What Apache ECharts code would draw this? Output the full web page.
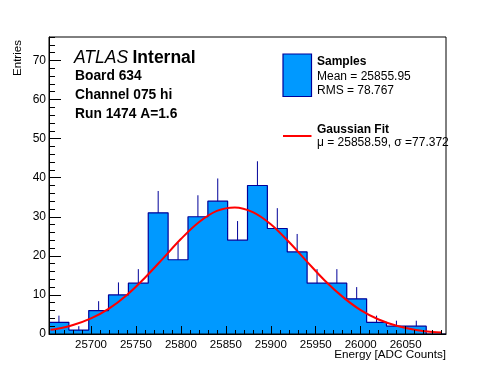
<!DOCTYPE html>
<html>
<head>
<meta charset="utf-8">
<script src="https://cdn.jsdelivr.net/npm/echarts@6/dist/echarts.min.js"></script>
<style>
html,body{margin:0;padding:0;background:#fff;}
#chart{width:496px;height:372px;}
</style>
</head>
<body>
<div id="chart"></div>
<script>
// ---- data ----
const binEdges = [25653.3, 25675.4, 25697.5, 25719.5, 25741.6, 25763.7, 25785.8, 25807.9, 25830.0, 25852.0, 25874.1, 25896.2, 25918.3, 25940.4, 25962.5, 25984.5, 26006.6, 26028.7, 26050.8, 26072.9, 26094.9];
const counts = [3, 1, 6, 10, 13, 31, 19, 30, 34, 24, 38, 27, 21, 13, 13, 9, 3, 2, 2, 0];
const errors = [1.7, 1.0, 2.4, 3.2, 3.6, 5.6, 4.4, 5.5, 5.8, 4.9, 6.2, 5.2, 4.6, 3.6, 3.6, 3.0, 1.7, 1.4, 1.4, 0];
const fitX = [25655, 25660, 25680, 25700, 25720, 25740, 25760, 25780, 25800, 25820, 25840, 25860, 25880, 25900, 25920, 25940, 25960, 25980, 26000, 26020, 26040, 26060, 26080, 26090];
const fitY = [1.1, 1.2, 2.3, 4.0, 6.5, 10.0, 14.4, 19.3, 24.3, 28.6, 31.5, 32.4, 31.2, 28.1, 23.6, 18.6, 13.7, 9.5, 6.1, 3.7, 2.1, 1.1, 0.5, 0.4];
const xMajorTicks = [25700, 25750, 25800, 25850, 25900, 25950, 26000, 26050];
const xMinorTicks = [25660, 25670, 25680, 25690, 25710, 25720, 25730, 25740, 25760, 25770, 25780, 25790, 25810, 25820, 25830, 25840, 25860, 25870, 25880, 25890, 25910, 25920, 25930, 25940, 25960, 25970, 25980, 25990, 26010, 26020, 26030, 26040, 26060, 26070, 26080, 26090];
const yMajorTicks = [0, 10, 20, 30, 40, 50, 60, 70];
const yMinorTicks = [2, 4, 6, 8, 12, 14, 16, 18, 22, 24, 26, 28, 32, 34, 36, 38, 42, 44, 46, 48, 52, 54, 56, 58, 62, 64, 66, 68, 72, 74, 76];
const xRange = [25653.3, 26094.9];
const yRange = [0, 76];
const xTitle = 'Energy [ADC Counts]';
const yTitle = 'Entries';
const legendTexts = ['Samples', 'Mean = 25855.95', 'RMS = 78.767', 'Gaussian Fit', 'μ = 25858.59, σ =77.372'];
const infoLines = ['Board 634', 'Channel 075 hi', 'Run 1474 A=1.6'];

// ---- build series data ----
const stepData = counts.map((c, i) => [binEdges[i], c]);
stepData.push([binEdges[binEdges.length - 1], counts[counts.length - 1]]);
const errData = counts.map((c, i) => [(binEdges[i] + binEdges[i + 1]) / 2, c, errors[i]]).filter(d => d[2] > 0);
const fitData = fitX.map((x, i) => [x, fitY[i]]);

const FONT = "'Liberation Sans', Arial, Helvetica, sans-serif";
const navy = '#000099';
const fillBlue = '#0099ff';

const chart = echarts.init(document.getElementById('chart'), null, {renderer: 'canvas'});
const axisCommon = {
  type: 'value',
  splitLine: {show: false},
  z: 10
};
chart.setOption({
  animation: false,
  backgroundColor: '#fff',
  grid: {left: 49, right: 50, top: 37, bottom: 38, show: true, borderColor: '#000', borderWidth: 1, backgroundColor: 'transparent', z: 10},
  xAxis: [
    Object.assign({}, axisCommon, {
      min: xRange[0], max: xRange[1], position: 'bottom',
      axisLine: {show: true, lineStyle: {color: '#000', width: 1}},
      axisTick: {show: true, inside: true, length: 8, customValues: xMajorTicks, lineStyle: {color: '#000', width: 1}},
      axisLabel: {show: true, customValues: xMajorTicks, margin: 5, color: '#000', fontSize: 11.5, fontFamily: FONT, formatter: v => String(v)}
    }),
    Object.assign({}, axisCommon, {
      min: xRange[0], max: xRange[1], position: 'bottom', offset: 0,
      axisLine: {show: false},
      axisTick: {show: true, inside: true, length: 4, customValues: xMinorTicks, lineStyle: {color: '#000', width: 1}},
      axisLabel: {show: false}
    })
  ],
  yAxis: [
    Object.assign({}, axisCommon, {
      min: yRange[0], max: yRange[1], position: 'left',
      axisLine: {show: true, lineStyle: {color: '#000', width: 1}},
      axisTick: {show: true, inside: true, length: 12, customValues: yMajorTicks, lineStyle: {color: '#000', width: 1}},
      axisLabel: {show: true, customValues: yMajorTicks, margin: 3, color: '#000', fontSize: 12, fontFamily: FONT}
    }),
    Object.assign({}, axisCommon, {
      min: yRange[0], max: yRange[1], position: 'left', offset: 0,
      axisLine: {show: false},
      axisTick: {show: true, inside: true, length: 6, customValues: yMinorTicks, lineStyle: {color: '#000', width: 1}},
      axisLabel: {show: false}
    })
  ],
  series: [
    {
      name: 'Samples', type: 'line', step: 'end', data: stepData,
      xAxisIndex: 0, yAxisIndex: 0,
      symbol: 'none', clip: true, z: 2,
      lineStyle: {color: navy, width: 1.2},
      areaStyle: {color: fillBlue, opacity: 1, origin: 'start'}
    },
    {
      name: 'errors', type: 'custom', data: errData, xAxisIndex: 0, yAxisIndex: 0, z: 3,
      renderItem: function (params, api) {
        const p0 = api.coord([api.value(0), api.value(1)]);
        const p1 = api.coord([api.value(0), api.value(1) + api.value(2)]);
        return {type: 'line', shape: {x1: p0[0], y1: p0[1], x2: p1[0], y2: p1[1]}, style: {stroke: navy, lineWidth: 1}};
      }
    },
    {
      name: 'Gaussian Fit', type: 'line', data: fitData, smooth: 0.35,
      xAxisIndex: 0, yAxisIndex: 0, symbol: 'none', clip: true, z: 4,
      lineStyle: {color: '#ff0000', width: 2}
    }
  ],
  graphic: [
    {type: 'text', x: 18, y: 58, rotation: Math.PI / 2, style: {text: yTitle, x: 0, y: 0, fill: '#000', font: '11.5px ' + FONT, textAlign: 'center', textVerticalAlign: 'middle', align: 'center', verticalAlign: 'middle'}},
    {type: 'text', style: {text: xTitle, x: 446, y: 355, fill: '#000', font: '11.7px ' + FONT, textAlign: 'right', textVerticalAlign: 'middle', align: 'right', verticalAlign: 'middle'}},
    {type: 'text', style: {text: 'ATLAS', x: 74, y: 58, fill: '#000', font: 'italic 17.5px ' + FONT, textAlign: 'left', textVerticalAlign: 'middle', align: 'left', verticalAlign: 'middle'}},
    {type: 'text', style: {text: 'Internal', x: 132.5, y: 58, fill: '#000', font: 'bold 17.5px ' + FONT, textAlign: 'left', textVerticalAlign: 'middle', align: 'left', verticalAlign: 'middle'}},
    {type: 'text', style: {text: infoLines[0], x: 75, y: 76.5, fill: '#000', font: 'bold 13.8px ' + FONT, textAlign: 'left', textVerticalAlign: 'middle', align: 'left', verticalAlign: 'middle'}},
    {type: 'text', style: {text: infoLines[1], x: 75, y: 95.5, fill: '#000', font: 'bold 13.8px ' + FONT, textAlign: 'left', textVerticalAlign: 'middle', align: 'left', verticalAlign: 'middle'}},
    {type: 'text', style: {text: infoLines[2], x: 75, y: 114, fill: '#000', font: 'bold 13.8px ' + FONT, textAlign: 'left', textVerticalAlign: 'middle', align: 'left', verticalAlign: 'middle'}},
    {type: 'rect', shape: {x: 283, y: 54, width: 28.5, height: 42.5}, style: {fill: fillBlue, stroke: navy, lineWidth: 1.2}, z: 20},
    {type: 'line', shape: {x1: 283, y1: 136, x2: 311.5, y2: 136}, style: {stroke: '#ff0000', lineWidth: 2}, z: 20},
    {type: 'text', style: {text: legendTexts[0], x: 317, y: 61.5, fill: '#000', font: 'bold 12px ' + FONT, textAlign: 'left', textVerticalAlign: 'middle', align: 'left', verticalAlign: 'middle'}, z: 20},
    {type: 'text', style: {text: legendTexts[1], x: 317, y: 77, fill: '#000', font: '12px ' + FONT, textAlign: 'left', textVerticalAlign: 'middle', align: 'left', verticalAlign: 'middle'}, z: 20},
    {type: 'text', style: {text: legendTexts[2], x: 317, y: 90.5, fill: '#000', font: '12px ' + FONT, textAlign: 'left', textVerticalAlign: 'middle', align: 'left', verticalAlign: 'middle'}, z: 20},
    {type: 'text', style: {text: legendTexts[3], x: 317, y: 129.5, fill: '#000', font: 'bold 12px ' + FONT, textAlign: 'left', textVerticalAlign: 'middle', align: 'left', verticalAlign: 'middle'}, z: 20},
    {type: 'text', style: {text: legendTexts[4], x: 317, y: 142.5, fill: '#000', font: '12px ' + FONT, textAlign: 'left', textVerticalAlign: 'middle', align: 'left', verticalAlign: 'middle'}, z: 20}
  ]
});
</script>
</body>
</html>
